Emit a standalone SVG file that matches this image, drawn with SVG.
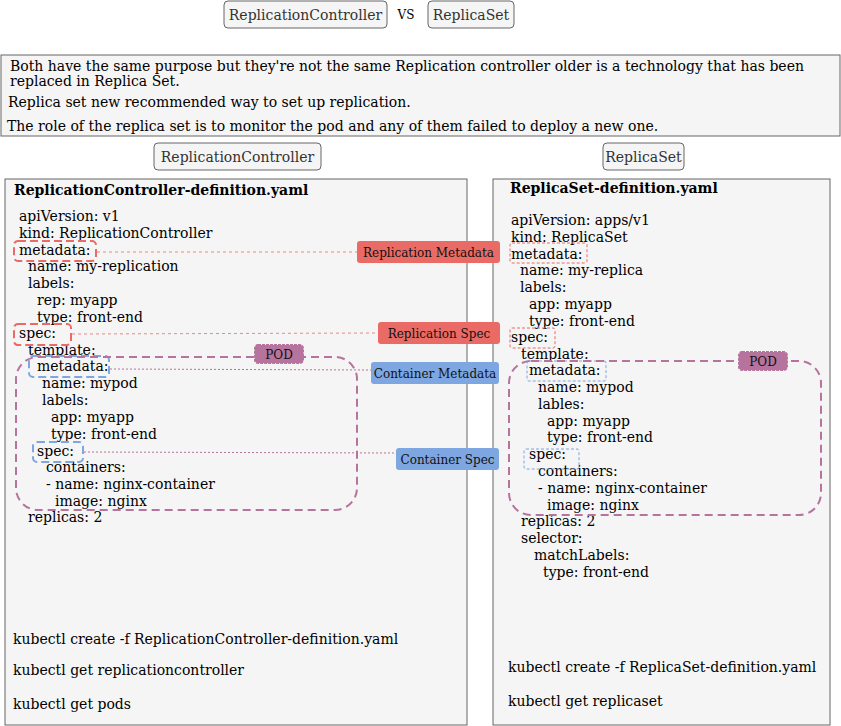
<svg xmlns="http://www.w3.org/2000/svg" width="841" height="726" viewBox="0 0 841 726">
<style>
.box{fill:#f5f5f5;stroke:#666666;stroke-width:1}
.hdr{font-family:"DejaVu Serif",serif;font-size:14px;fill:#333333;text-anchor:middle}
.desc{font-family:"DejaVu Serif",serif;font-size:14px;fill:#000}
.y{font-family:"DejaVu Serif",serif;font-size:14px;fill:#000}
.t{font-family:"DejaVu Serif",serif;font-size:14px;font-weight:bold;fill:#000}
.lbl{font-family:"DejaVu Serif",serif;font-size:12px;fill:#111;text-anchor:middle}
.red{fill:#EA6B66}
.blue{fill:#7EA6E0}
.hlR{fill:none;stroke:#EA6B66;stroke-width:2;stroke-dasharray:8 4}
.hlB{fill:none;stroke:#7EA6E0;stroke-width:2;stroke-dasharray:8 4}
.hlr{fill:none;stroke:#EA6B66;stroke-width:1;stroke-dasharray:3 2}
.hlb{fill:none;stroke:#7EA6E0;stroke-width:1;stroke-dasharray:3 2}
.pod{fill:none;stroke:#B5739D;stroke-width:2;stroke-dasharray:8 5}
.podl{fill:#B5739D;stroke:#B5739D;stroke-width:2;stroke-dasharray:3 1}
.cr{fill:none;stroke:#EA6B66;stroke-opacity:0.8;stroke-width:1;stroke-dasharray:3 3}
.cp{fill:none;stroke:#B5739D;stroke-width:1;stroke-dasharray:2 2}
</style>
<g id="title-rc"><rect class="box" x="224" y="1" width="163" height="27" rx="4"/><text class="hdr" x="305.5" y="19.5">ReplicationController</text></g>
<g id="title-vs"><text x="406" y="19" font-family="'DejaVu Serif',serif" font-size="12" fill="#000" text-anchor="middle">VS</text></g>
<g id="title-rs"><rect class="box" x="428" y="1" width="86" height="27" rx="4"/><text class="hdr" x="471" y="19.5">ReplicaSet</text></g>
<g id="description"><rect class="box" x="1" y="55" width="839" height="81"/>
<text class="desc" x="10" y="71">Both have the same purpose but they're not the same Replication controller older is a technology that has been</text>
<text class="desc" x="10" y="86">replaced in Replica Set.</text>
<text class="desc" x="8" y="107">Replica set new recommended way to set up replication.</text>
<text class="desc" x="7" y="131">The role of the replica set is to monitor the pod and any of them failed to deploy a new one.</text></g>
<g id="hdr-rc"><rect class="box" x="154" y="143" width="167" height="27" rx="4"/><text class="hdr" x="237.5" y="161.5">ReplicationController</text></g>
<g id="hdr-rs"><rect class="box" x="603" y="143" width="81" height="27" rx="4"/><text class="hdr" x="643.5" y="161.5">ReplicaSet</text></g>
<g id="panel-rc"><rect class="box" x="5" y="179" width="462" height="546"/>
<text class="t" x="14" y="195">ReplicationController-definition.yaml</text>
<text class="y" x="19" y="221">apiVersion: v1</text>
<text class="y" x="19" y="238">kind: ReplicationController</text>
<text class="y" x="19" y="255">metadata:</text>
<text class="y" x="28" y="271">name: my-replication</text>
<text class="y" x="28" y="288">labels:</text>
<text class="y" x="37" y="305">rep: myapp</text>
<text class="y" x="37" y="322">type: front-end</text>
<text class="y" x="19" y="338">spec:</text>
<text class="y" x="28" y="355">template:</text>
<text class="y" x="37" y="371">metadata:</text>
<text class="y" x="42" y="388">name: mypod</text>
<text class="y" x="42" y="405">labels:</text>
<text class="y" x="51" y="422">app: myapp</text>
<text class="y" x="51" y="439">type: front-end</text>
<text class="y" x="37" y="456">spec:</text>
<text class="y" x="46" y="472">containers:</text>
<text class="y" x="46" y="489">- name: nginx-container</text>
<text class="y" x="55" y="506">image: nginx</text>
<text class="y" x="28" y="522">replicas: 2</text>
<text class="y" x="13" y="644">kubectl create -f ReplicationController-definition.yaml</text>
<text class="y" x="13" y="675">kubectl get replicationcontroller</text>
<text class="y" x="13" y="709">kubectl get pods</text>
<rect class="hlR" x="14" y="241" width="82" height="20" rx="4"/>
<rect class="hlR" x="14" y="324" width="57" height="21" rx="4"/>
<rect class="hlB" x="29" y="356" width="80" height="21" rx="4"/>
<rect class="hlB" x="33" y="442" width="50" height="20" rx="4"/>
<rect class="pod" x="16" y="357" width="341" height="153" rx="22"/>
</g>
<g id="panel-rs"><rect class="box" x="493" y="179" width="337" height="546"/>
<text class="t" x="510" y="193">ReplicaSet-definition.yaml</text>
<text class="y" x="511" y="225">apiVersion: apps/v1</text>
<text class="y" x="511" y="242">kind: ReplicaSet</text>
<text class="y" x="511" y="259">metadata:</text>
<text class="y" x="520" y="275">name: my-replica</text>
<text class="y" x="520" y="292">labels:</text>
<text class="y" x="529" y="309">app: myapp</text>
<text class="y" x="529" y="326">type: front-end</text>
<text class="y" x="511" y="342">spec:</text>
<text class="y" x="521" y="359">template:</text>
<text class="y" x="529" y="375">metadata:</text>
<text class="y" x="538" y="392">name: mypod</text>
<text class="y" x="538" y="409">lables:</text>
<text class="y" x="547" y="426">app: myapp</text>
<text class="y" x="547" y="442">type: front-end</text>
<text class="y" x="529" y="459">spec:</text>
<text class="y" x="538" y="476">containers:</text>
<text class="y" x="538" y="493">- name: nginx-container</text>
<text class="y" x="547" y="510">image: nginx</text>
<text class="y" x="521" y="526">replicas: 2</text>
<text class="y" x="521" y="543">selector:</text>
<text class="y" x="534" y="560">matchLabels:</text>
<text class="y" x="543" y="577">type: front-end</text>
<text class="y" x="508" y="672">kubectl create -f ReplicaSet-definition.yaml</text>
<text class="y" x="508" y="706">kubectl get replicaset</text>
<rect class="hlr" x="510" y="243" width="77" height="20" rx="2"/>
<rect class="hlr" x="510" y="328" width="45" height="20" rx="2"/>
<rect class="hlb" x="527" y="361" width="79" height="20" rx="2"/>
<rect class="hlb" x="524" y="449" width="55" height="20" rx="2"/>
<rect class="pod" x="509" y="361" width="312" height="154" rx="22"/>
</g>
<g id="connectors">
<line class="cr" x1="97" y1="252" x2="357" y2="252"/>
<line class="cr" x1="72" y1="334" x2="378" y2="333"/>
<line class="cp" x1="110" y1="369" x2="371" y2="370"/>
<line class="cp" x1="84" y1="452" x2="396" y2="453"/>
</g>
<g id="pod-rc"><rect class="podl" x="255" y="345" width="48" height="18" rx="3"/><text class="lbl" x="279" y="358.5">POD</text></g>
<g id="pod-rs"><rect class="podl" x="739" y="352" width="48" height="18" rx="3"/><text class="lbl" x="763" y="365.5">POD</text></g>
<g id="lbl-rep-meta"><rect class="red" x="357" y="241" width="143" height="22" rx="3"/><text class="lbl" x="428.5" y="256.5">Replication Metadata</text></g>
<g id="lbl-rep-spec"><rect class="red" x="378" y="322" width="122" height="22" rx="3"/><text class="lbl" x="439" y="337.5">Replication Spec</text></g>
<g id="lbl-cont-meta"><rect class="blue" x="371" y="362" width="128" height="22" rx="3"/><text class="lbl" x="435" y="377.5">Container Metadata</text></g>
<g id="lbl-cont-spec"><rect class="blue" x="396" y="448" width="103" height="22" rx="3"/><text class="lbl" x="447.5" y="463.5">Container Spec</text></g>
</svg>
